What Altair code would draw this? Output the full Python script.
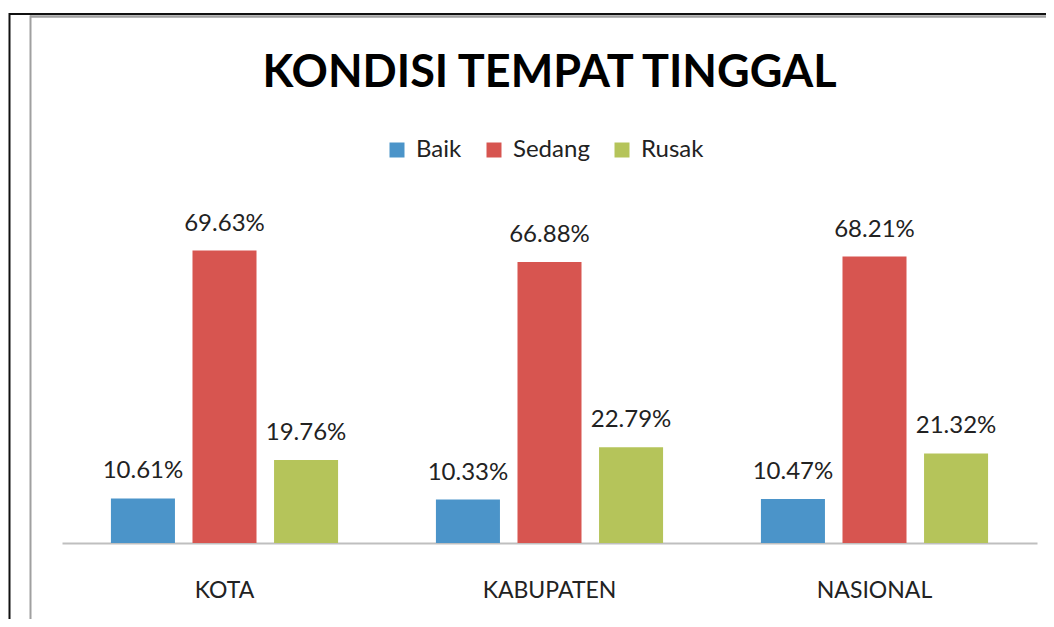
import altair as alt
import pandas as pd

title_text = "KONDISI TEMPAT TINGGAL"
regions = ["KOTA", "KABUPATEN", "NASIONAL"]
conditions = ["Baik", "Sedang", "Rusak"]
baik = [10.61, 10.33, 10.47]
sedang = [69.63, 66.88, 68.21]
rusak = [19.76, 22.79, 21.32]
colors = ["#4B94C9", "#D75550", "#B5C45A"]

rows = []
for i, r in enumerate(regions):
    for c, vals in zip(conditions, [baik, sedang, rusak]):
        rows.append({"Wilayah": r, "Kondisi": c, "Nilai": vals[i]})
df = pd.DataFrame(rows)

FONT = "Lato"

x_enc = alt.X("Wilayah:N", sort=regions,
              scale=alt.Scale(paddingInner=0, paddingOuter=0),
              axis=alt.Axis(title=None, labelAngle=0, ticks=False, domainColor="#BFBFBF",
                            domainWidth=2, labelFont=FONT, labelFontSize=23,
                            labelColor="#222222", labelBaseline="alphabetic",
                            labelPadding=54, grid=False))
xo_enc = alt.XOffset("Kondisi:N", sort=conditions,
                     scale=alt.Scale(paddingInner=0.215, paddingOuter=0.6))
y_enc = alt.Y("Nilai:Q", scale=alt.Scale(domain=[0, 80]), axis=None)

base = alt.Chart(df)

bars = base.mark_bar().encode(
    x=x_enc, xOffset=xo_enc, y=y_enc,
    color=alt.Color("Kondisi:N", sort=conditions,
                    scale=alt.Scale(domain=conditions, range=colors),
                    legend=alt.Legend(title=None, orient="none", direction="horizontal",
                                      legendX=323, legendY=-69, padding=0,
                                      symbolType="square", symbolSize=225,
                                      symbolStrokeWidth=0, labelFont=FONT,
                                      labelFontSize=24, labelColor="#222222",
                                      labelOffset=7, columnPadding=20)),
)

labels = base.mark_text(font=FONT, fontSize=24, color="#222222",
                        baseline="alphabetic", dy=-20).encode(
    x=x_enc, xOffset=xo_enc, y=y_enc,
    text=alt.Text("lbl:N"),
).transform_calculate(lbl="format(datum.Nilai, '.2f') + '%'")

title_df = pd.DataFrame({"t": [title_text]})
title = alt.Chart(title_df).mark_text(font=FONT, fontSize=45, fontWeight="bold",
                                      color="#000000", align="center",
                                      baseline="alphabetic").encode(
    x=alt.value(487.5), y=alt.value(-120), text=alt.Text("t:N"))

one = pd.DataFrame({"k": [0]})
frame_black_top = alt.Chart(one).mark_rule(color="#111111", strokeWidth=2).encode(
    x=alt.value(-53), x2=alt.value(990), y=alt.value(-193))
frame_black_left = alt.Chart(one).mark_rule(color="#111111", strokeWidth=2).encode(
    x=alt.value(-52.5), y=alt.value(-194), y2=alt.value(420))
frame_gray_top = alt.Chart(one).mark_rule(color="#A0A0A0", strokeWidth=2.5).encode(
    x=alt.value(-32), x2=alt.value(990), y=alt.value(-190.5))
frame_gray_left = alt.Chart(one).mark_rule(color="#A0A0A0", strokeWidth=2).encode(
    x=alt.value(-31.5), y=alt.value(-191.5), y2=alt.value(420))

chart = alt.layer(
    frame_black_top, frame_black_left, frame_gray_top, frame_gray_left, title, bars, labels
).properties(
    width=975, height=336,
    autosize=alt.AutoSizeParams(type="none"),
    padding={"left": 54, "top": 199, "right": 9, "bottom": 76},
    background="white",
).configure_view(stroke=None)

chart.save("out.html", embed_options={"renderer": "svg", "actions": False})
